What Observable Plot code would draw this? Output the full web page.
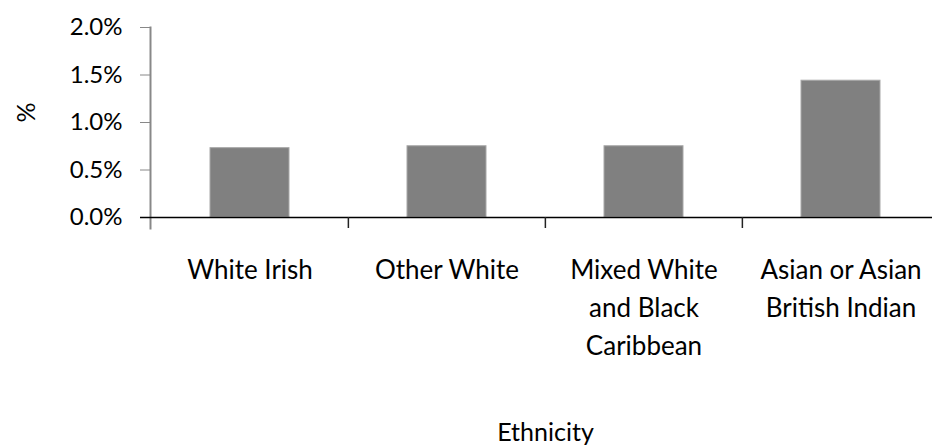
<!DOCTYPE html>
<html><head><meta charset="utf-8">
<script src="https://cdn.jsdelivr.net/npm/d3@7"></script>
<script src="https://cdn.jsdelivr.net/npm/@observablehq/plot@0.6"></script>
<style>body{margin:0;background:#fff} svg{display:block}</style>
</head><body><div id="chart"></div>
<script>
const categories = ["White Irish", "Other White", "Mixed White\nand Black\nCaribbean", "Asian or Asian\nBritish Indian"];
const values = [0.73, 0.75, 0.75, 1.44];
const yTicks = [0, 0.5, 1.0, 1.5, 2.0];
const yTickLabels = ["0.0%", "0.5%", "1.0%", "1.5%", "2.0%"];
const xTitle = "Ethnicity";
const yTitle = "%";

const data = categories.map((c, i) => ({category: c, value: values[i]}));
const font = "Lato, 'Open Sans', sans-serif";
const xRange = [150, 939];
const step = (xRange[1] - xRange[0]) / categories.length;

const chart = Plot.plot({
  width: 932, height: 447,
  marginTop: 27, marginBottom: 230, marginLeft: 150, marginRight: 0,
  style: {fontFamily: font, fontSize: "25px", color: "#000", background: "#fff"},
  x: {domain: categories, range: xRange, paddingInner: 0.6, paddingOuter: 0.3, axis: null},
  y: {domain: [0, 2], axis: null},
  marks: [
    Plot.barY(data, {x: "category", y: "value", fill: "#808080", stroke: "#a8a8a8", strokeWidth: 1}),
    Plot.axisY({ticks: yTicks, tickFormat: (d, i) => yTickLabels[i], tickSize: 10, tickPadding: 18, stroke: "#888", fill: "#000", fontSize: 24, label: null}),
    Plot.frame({anchor: "left", stroke: "#888", strokeWidth: 2, insetBottom: -11}),
    Plot.ruleY([0], {stroke: "#000", strokeWidth: 1.5, insetLeft: -10}),
    Plot.ruleX(categories.slice(1), {x: d => d, y1: 0, y2: 0, dx: -step / 2, insetBottom: -11, stroke: "#222", strokeWidth: 1.5}),
    Plot.text(categories, {x: d => d, y: () => 0, text: d => d, lineAnchor: "top", dy: 35, lineHeight: 1.45, fontSize: 26, fill: "#000"}),
    Plot.text([xTitle], {frameAnchor: "bottom", text: d => d, lineAnchor: "middle", dx: 4, dy: 215, fontSize: 25, fill: "#000"}),
    Plot.text([yTitle], {frameAnchor: "left", rotate: -90, dx: -124, text: d => d, fontSize: 25, fill: "#000"})
  ]
});
document.getElementById("chart").appendChild(chart);
</script>
</body></html>
